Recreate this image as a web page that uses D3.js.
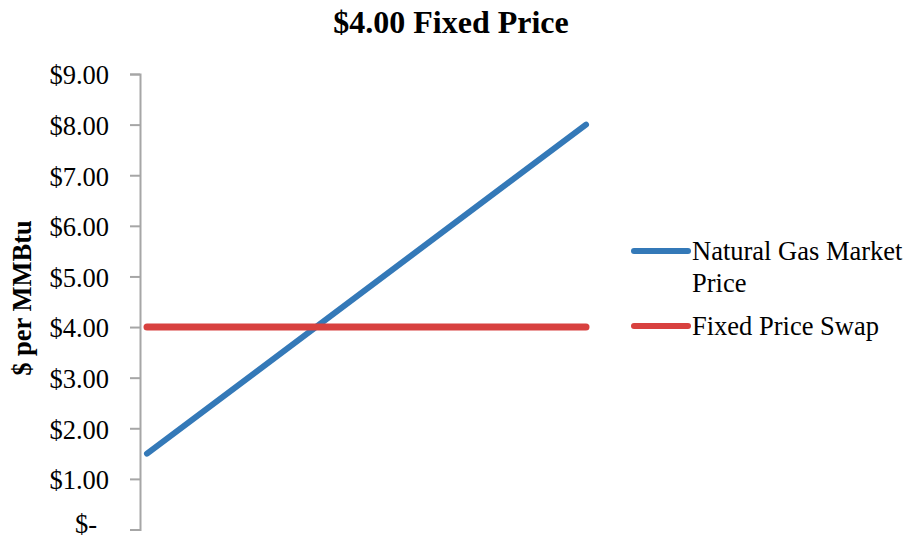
<!DOCTYPE html>
<html>
<head>
<meta charset="utf-8">
<script src="https://cdn.jsdelivr.net/npm/d3@7"></script>
<style>
  html, body { margin: 0; padding: 0; background: #fff; }
  svg { display: block; font-family: "Liberation Serif", "Times New Roman", serif; }
</style>
</head>
<body>
<svg id="chart" width="908" height="539"></svg>
<script>
// Price scenarios along the horizontal axis (two end points per series)
const scenarios = ["Low", "High"];
const marketPrice = [1.5, 8.0];
const swapPrice = [4.0, 4.0];
const yTicks = [0, 1, 2, 3, 4, 5, 6, 7, 8, 9];
const seriesNames = ["Natural Gas Market Price", "Fixed Price Swap"];
const seriesColors = ["#3479b8", "#d8413f"];

const svg = d3.select("#chart");

const x = d3.scalePoint().domain(scenarios).range([147, 586]);
const y = d3.scaleLinear().domain([0, 9]).range([529.5, 74]);

// Title
svg.append("text")
  .attr("x", 451).attr("y", 33)
  .attr("text-anchor", "middle")
  .attr("font-weight", "bold")
  .attr("font-size", 32)
  .text("$4.00 Fixed Price");

// Y axis
const fmt = v => v === 0 ? "$-" : "$" + v.toFixed(2);
const yAxis = svg.append("g")
  .attr("transform", "translate(140,0)")
  .call(d3.axisLeft(y).tickValues(yTicks).tickFormat(fmt).tickSizeOuter(0).tickSize(10).tickPadding(21));
yAxis.select(".domain").attr("stroke", "#a6a6a6").attr("stroke-width", 2);
yAxis.selectAll(".tick line").attr("stroke", "#a6a6a6").attr("stroke-width", 2);
yAxis.selectAll(".tick text")
  .attr("font-family", "Liberation Serif, serif")
  .attr("font-size", 26.5)
  .attr("fill", "#000")
  .attr("dy", "0.37em");
// the zero label sits slightly inward and a touch higher so it stays inside the frame
yAxis.selectAll(".tick").filter(d => d === 0).select("text")
  .attr("dx", -12)
  .attr("dy", "0.13em");

// Y axis title
svg.append("text")
  .attr("transform", "translate(31,298) rotate(-90)")
  .attr("text-anchor", "middle")
  .attr("font-weight", "bold")
  .attr("font-size", 26.5)
  .text("$ per MMBtu");

// Series lines
const line = d3.line().x((d, i) => x(scenarios[i])).y(d => y(d));
[marketPrice, swapPrice].forEach((vals, i) => {
  svg.append("path")
    .datum(vals)
    .attr("d", line)
    .attr("fill", "none")
    .attr("stroke", seriesColors[i])
    .attr("stroke-width", i === 0 ? 6 : 7)
    .attr("stroke-linecap", "round");
});

// Legend
const legend = svg.append("g");
const legendRows = [
  { lines: ["Natural Gas Market", "Price"], y: 251 },
  { lines: ["Fixed Price Swap"], y: 326 }
];
legendRows.forEach((row, i) => {
  legend.append("line")
    .attr("x1", 634).attr("x2", 688)
    .attr("y1", row.y).attr("y2", row.y)
    .attr("stroke", seriesColors[i])
    .attr("stroke-width", 6)
    .attr("stroke-linecap", "round");
  const t = legend.append("text")
    .attr("x", 692).attr("y", row.y)
    .attr("font-size", 26.5)
    .attr("fill", "#000");
  row.lines.forEach((s, k) => {
    t.append("tspan").attr("x", 692).attr("dy", k === 0 ? "0.35em" : "1.2em").text(s);
  });
});
</script>
</body>
</html>
